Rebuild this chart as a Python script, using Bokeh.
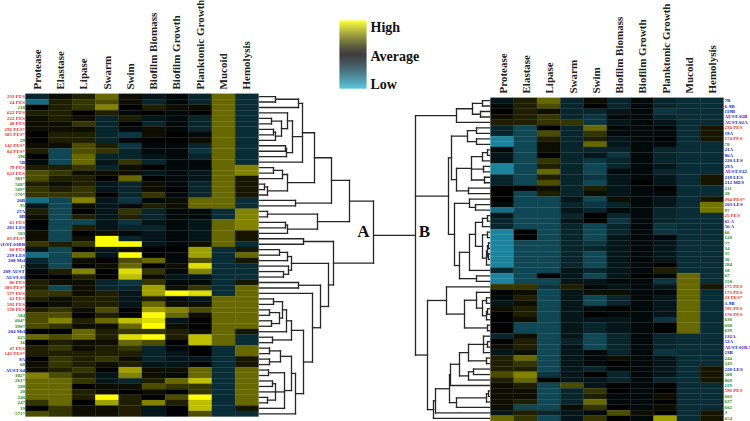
from bokeh.plotting import figure
from bokeh.models import ColumnDataSource
from bokeh.core.properties import value
from bokeh.embed import file_html
from bokeh.resources import INLINE
import numpy as np, math

traits = ["Protease","Elastase","Lipase","Swarm","Swim","Biofilm  Biomass","Biofilm Growth","Planktonic Growth","Mucoid","Hemolysis"]

left_labels = ["233 PES","24 PES","218","622 PES","222 PES","48 PES","291 PES*","385 PES*","29","142 PES*","84 PES*","596","5B","79 PES","623 PES","381*","568*","569*","570*","20B","95","27A","8B","61 PES","281 LES","583","83 PES*","AUST-03BB","60 PES","219 LES","208 Mel","17","209 AUST","AUST-03","80 PES","383 PES*","577 PES","62 PES","592 PES","578 PES","584","604*","290*","204 Mel","625","16","47 PES","143 PES*","9A","68","AUST-04","382*","261*","589","20","240","247","19","571*"]
right_labels = ["7B","6-9B","119B","AUST-02B","AUST-02A","234 PES","19A","174 PES","78","21A","86A","220 LES","29A","AUST-P42","219 LES","212 MES","211","28","J04 PES*","203 LES","97","25 PES","65 A","56 A","66","120","77","34","35","36","284","18","67","150","175 PES","173 PES","23 PES*","3-9B","591 PES","176 PES","630","608","639","132A","52A","AUST-01RA","23B","244","243","228 LES","588","869","119","590 PES","603","637","602","J","654"]
blue_labels = {"5B","20B","27A","8B","281 LES","AUST-03BB","219 LES","208 Mel","209 AUST","AUST-03","204 Mel","9A","AUST-04","7B","6-9B","119B","AUST-02B","AUST-02A","19A","21A","86A","220 LES","29A","AUST-P42","212 MES","203 LES","65 A","56 A","3-9B","132A","52A","AUST-01RA","23B","228 LES"}

M = -3.5
left_values = [
[-3,1,2,5,1,-2,-1,-3,5,M],
[-7,2,3,4,1,-3,-1,-3,5,M],
[0,2,3,6,0,2,1,1,5,M],
[2,2,0,2,-1,0,-1,0,5,M],
[1,2,1,-3,2,-2,-1,-3,5,M],
[1,1,3,-3,0,-3,-1,-3,5,M],
[1,1,1,-3,-1,1,-1,-3,5,M],
[0,2,2,-3,-4,1,0,-1,5,M],
[0,2,2,-3,-1,0,0,1,5,M],
[1,1,4,2,-4,-1,-1,-3,5,M],
[2,-5,4,3,-3,-1,-1,-4,5,M],
[0,-5,5,-3,-3,-2,-1,-3,5,M],
[-1,-5,5,-2,3,-3,-1,-1,5,M],
[2,2,3,-3,1,0,-1,-1,5,6],
[4,3,1,1,1,-2,-1,-2,5,6],
[4,2,2,0,5,0,-1,-2,5,1.5],
[2,1,2,-2,-3,1,-1,-3,5,1.5],
[3,2,3,-2,-3,1,0,-3,5,1.5],
[3,3,3,0,-3,3,-1,-3,5,1.5],
[-7,-5,6,-2,-4,-1,1,5,5,M],
[-2,-5,1,-2,-1,2,1,5,5,M],
[2,-5,0,-2,3,-3,-1,-1,M,6],
[1,-5,2,-2,2,-3,-1,-1,M,6],
[0,-5,-5,-2,-4,-2,-1,-2,5,6],
[-1,-5,2,-2,-3,-3,-1,-2,5,6],
[1,-5,0,1,-1,-2,-1,-2,5,1.5],
[1,-5,1,10,-3,-2,-1,-2,5,1.5],
[3,2,3,10,10,-2,-1,1,5,M],
[-2,-5,0,-2,1,0,0,7,M,1.5],
[-7,-5,5,-2,10,0,-1,7,M,5],
[-3,-5,1,0,4,5,-1,4,M,1.5],
[-2,-5,0,1,5,0,1,9,M,M],
[-1,2,6,0,9,3,-1,6,M,M],
[0,0,2,0,8,1,-2,-2,M,M],
[2,1,1,-3,-4,3,-1,-1,M,1.5],
[2,-5,1,-3,-3,7,1,3,M,5],
[3,3,1,2,-2,7,10,9,M,5],
[2,1,2,2,-2,2,-1,-2,5,5],
[0,1,2,2,-2,5,1,1,5,5],
[2,3,1,4,0,7,6,4,5,5],
[4,4,0,2,0,10,5,1,5,5],
[4,6,2,5,8,9,-2,0,5,5],
[4,3,1,1,5,10,1,0,5,5],
[0,0,5,2,3,3,2,1,5,1.5],
[5,4,5,2,9,10,2,8,5,M],
[0,2,1,1,5,4,0,8,5,M],
[2,3,1,2,3,-3,-1,0,M,5],
[2,2,2,2,2,-3,-2,0,M,5],
[0,3,2,3,1,-3,-2,-2,M,1.5],
[1,3,2,1,2,-2,-2,0,M,1.5],
[1,2,3,0,7,1,1,5,M,5],
[6,4,2,-2,6,1,-1,5,M,5],
[5,5,3,-2,-3,2,5,8,M,5],
[5,5,0,1,1,4,3,3,M,5],
[5,5,2,1,0,1,0,3,M,5],
[5,5,2,10,2,0,4,10,M,5],
[3,5,0,7,2,6,2,8,M,5],
[0,3,1,1,2,-2,0,8,M,1.5],
[4,3,1,1,2,-2,0,4,M,M],
]

right_values = [
[-2,2,5,-3,1,-3,-1,-3,M,M],
[-1,2,4,-3,0,-3,-1,-3,M,M],
[0,2,1,-3,-3,-2,-1,-4,M,M],
[1,2,3,-3,-4,-1,-1,-3,M,M],
[2,2,3,3,-4,-2,-1,-2,M,M],
[-3,-5,0,-3,5,-1,-1,-1,M,1.5],
[-3,-5,4,-3,3,-1,-1,-1,M,1.5],
[-8,-5,2,-3,2,-2,-1,0,M,1.5],
[-8,-5,1,-3,5,-2,-1,-1,M,M],
[-1,-5,1,-3,-3,-3,-1,-3,M,M],
[-2,-5,0,-3,-2,-4,-1,-3,M,M],
[-2,-5,3,-3,-4,-3,-1,-3,M,M],
[-8,-5,2,-3,-5,-3,-1,-2,M,M],
[-8,-5,5,-3,-5,-1,-1,-3,M,M],
[-3,-5,2,-3,-4,-2,-1,-2,M,1.5],
[-3,-5,4,-3,-5,-2,0,-2,M,1.5],
[0,0,1,-3,2,-2,-1,0,M,M],
[0,-5,2,-3,1,-2,-1,-1,M,M],
[0,-5,-5,-2,-5,1,-1,-2,M,1.5],
[-1,-5,-5,-3,-4,-3,-1,-2,M,5.5],
[-7,-5,-5,-2,-3,-1,-1,-3,M,5.5],
[-2,-5,-5,-3,0,-3,-1,-3,M,M],
[-3,-5,-5,-2,0,-4,-1,-3,M,M],
[-3,-5,-5,-3,-5,-3,-1,-4,M,M],
[-8,0,-5,-3,-5,-3,-1,-4,M,M],
[-8,0,-5,-3,-5,-2,-1,-1,M,M],
[-8,-5,-5,-3,-4,-2,-1,-2,M,M],
[-8,-5,-5,-3,-3,-2,-1,-2,M,M],
[-8,-5,-5,-3,-5,-2,-1,-2,M,M],
[-8,-5,-5,-3,-5,-2,-1,-2,M,M],
[-8,-5,-5,-3,-5,-2,-1,0,M,M],
[-3,-5,-5,-2,-3,-2,-1,2,M,M],
[-8,-5,0,-2,-5,-2,0,-1,5,M],
[-8,-5,-5,-2,-2,-1,-1,-4,5,M],
[3,3,-4,2,-1,-2,-1,-2,5,1.5],
[0,1,-5,-2,1,1,-1,-1,5,M],
[-1,2,-5,-2,-5,-3,-1,-2,5,M],
[-2,1,-5,-2,-5,-3,-1,-2,5,M],
[1,2,-5,-2,-1,0,-1,-2,5,M],
[0,2,-5,-2,0,-1,-1,-2,5,M],
[0,1,-5,-2,-2,-2,-1,-4,5,M],
[0,-5,-5,-2,-3,-2,-1,0,5,M],
[0,-5,-5,-2,-3,-2,-1,0,5,M],
[-3,1,-5,-2,-5,-3,-1,-3,M,M],
[0,2,-5,-3,-5,-3,-1,-3,M,M],
[1,2,-5,-2,-5,-3,-1,-3,M,M],
[-2,1,-5,-2,-1,-3,-1,-4,M,M],
[2,5,-5,-2,-1,1,-1,-2,M,M],
[2,3,-5,-2,-1,0,-1,-2,M,M],
[2,2,-5,-2,-3,-1,-1,-2,M,1.5],
[4,6,-4,-2,0,-3,-1,-2,M,1.5],
[2,5,0,-2,-2,-3,-1,-3,M,1.5],
[1,2,-5,4,-2,0,-1,0,M,M],
[1,1,-5,-3,3,0,-1,0,M,M],
[1,1,-5,-3,2,-1,-1,1,M,M],
[1,2,-5,-3,5,-1,-1,0,M,M],
[1,-5,-5,1,3,0,-1,1,M,M],
[-2,2,-3,-2,-1,4,1,0,M,1.5],
[5,3,-5,-2,3,0,-1,7,M,1.5],
]

# dendrograms: [merge distance, child, child, ...]; integer children are rows
left_tree = [114,
    [90,
        [72,
            [55,
                [43,[39,[16,0,1],2],[33,[28,3,[22,[12,4,5],[16,[14,6,7],8]]],[27,[26,9,10],11]],12],
                [28,[23,[14,13,14],15],[8,[5,16,17],18]]],
            [36,19,20]],
        [58,[8,21,22],[28,[26,23,24],25]]],
    [74,
        [44,26,27],
        [69,
            [32,[28,[20,28,29],30],[29,31,[24,32,33]]],
            [61,
                [39,34,35],
                [53,36,
                    [44,
                        [32,[27,[23,[14,37,38],[20,[10,39,40],[12,41,42]]],43],[13,44,45]],
                        [36,[32,[21,[10,46,47],[10,48,49]],[25,[9,50,51],[16,[13,52,53],54,[8,55,56]],57]],58]]]]]]]

right_tree = [74,
    [33,[17,[7,0,1],[9,2,3]],4],
    [41,
        [38,
            [22,[13,5,6],[13,7,8]],
            [33,[18,[7,[2,9,10],11],[6,12,13],[5,14,15]],[21,16,17]]],
        [35,
            [20,18,[14,19,20]],
            [30,[20,[14,[7,[2,21,22],23],[7,[2,24,25],[3,[2,[1,26,27],[1,28,29]],30]]],31],[13,32,33]]]],
    [62,
        [43,34,[25,[13,35,[7,[3,36,37],[3,[2,38,39],40]]],[2,41,42]]],
        [56,
            [54,
                [40,
                    [39,
                        [30,
                            [21,[6,43,[2,44,45],46],[3,47,48]],
                            [21,[16,49,50],51]],
                        52],
                    [33,[3,[1,53,54],55],56]],
                57],
            58]]]

def colour(v):
    a = max(-1.0, min(1.0, v / 10))
    g = abs(a) ** 1.3
    if a < 0:
        return "#%02x%02x%02x" % (round(36*g), round(175*g), round(210*g))
    return "#%02x%02x00" % (round(255*g), round(255*g))

p = figure(width=750, height=421, x_range=(0,750), y_range=(421,0), output_backend="svg",
           toolbar_location=None, min_border=0, margin=(0,0,0,0))
p.axis.visible = False
p.grid.visible = False
p.outline_line_color = None

SERIF = value("Liberation Serif")
CW = 23.3

def heat(x0, y0, rh, vals, labels, label_x, align):
    xs, ys, cs = [], [], []
    for r, row in enumerate(vals):
        for c, v in enumerate(row):
            xs.append(x0 + CW*(c+.5)); ys.append(y0 + rh*(r+.5)); cs.append(colour(v))
    src = ColumnDataSource(dict(x=xs, y=ys, c=cs))
    p.rect("x","y",width=CW,height=rh,source=src,fill_color="c",fill_alpha=1.0,line_color="c",line_width=0.3)
    cols = ["#ee2a2a" if "PES" in s else "#2222cc" if s in blue_labels else "#1c8c1c" for s in labels]
    p.text([label_x]*len(labels), [y0 + rh*(i+.5) for i in range(len(labels))], text=labels,
           text_color=cols, text_font=SERIF, text_font_style="bold", text_font_size="5px",
           text_align=align, text_baseline="middle")

heat(25, 93.3, 5.47, left_values, left_labels, 24.5, "right")
heat(490, 97.3, 5.48, right_values, right_labels, 724, "left")

def dendro(tree, x0, sign, y0, rh):
    x0s, y0s, x1s, y1s = [], [], [], []
    def walk(n):
        if isinstance(n, int):
            return x0, y0 + rh*(n+.5)
        x = x0 + sign*n[0]
        ys = []
        for ch in n[1:]:
            cx, cy = walk(ch)
            x0s.append(cx); y0s.append(cy); x1s.append(x); y1s.append(cy)
            ys.append(cy)
        x0s.append(x); y0s.append(min(ys)); x1s.append(x); y1s.append(max(ys))
        return x, (min(ys)+max(ys))/2
    end = walk(tree)
    p.segment(x0s, y0s, x1s, y1s, line_color="#262626", line_width=1.3, line_cap="square")
    return end

lx, ly = dendro(left_tree, 259, 1, 93.3, 5.47)
rx, ry = dendro(right_tree, 489, -1, 97.3, 5.48)
p.segment([lx],[ry],[rx],[ry], line_color="#262626", line_width=1.3)

col_names_y = [89, 93]
p.text([25+CW*(i+.5)-0.5 for i in range(10)], [col_names_y[0]]*10, text=traits, angle=math.pi/2,
       text_font=SERIF, text_font_style="bold", text_font_size="11px", text_color="#222222",
       text_align="left", text_baseline="middle")
p.text([490+CW*(i+.5)+0.5 for i in range(10)], [col_names_y[1]]*10, text=traits, angle=math.pi/2,
       text_font=SERIF, text_font_style="bold", text_font_size="11px", text_color="#222222",
       text_align="left", text_baseline="middle")

grad_levels = np.linspace(10, -10, 68)
grad_src = ColumnDataSource(dict(x=[352.5]*68, y=[20.5+i for i in range(68)], c=[colour(v) for v in grad_levels]))
p.rect("x","y",width=27,height=1.2,source=grad_src,fill_color="c",fill_alpha=1.0,line_color=None)
p.text([370,370,370],[27,55.5,84],text=["High","Average","Low"],text_font=SERIF,text_font_style="bold",
       text_font_size="14px",text_color="#111111",text_baseline="middle")
p.text([363,424],[230.5,230.5],text=["A","B"],text_font=SERIF,text_font_style="bold",text_font_size="17px",
       text_color="#111111",text_align="center",text_baseline="middle")

open("out.html","w").write(file_html(p, INLINE))
